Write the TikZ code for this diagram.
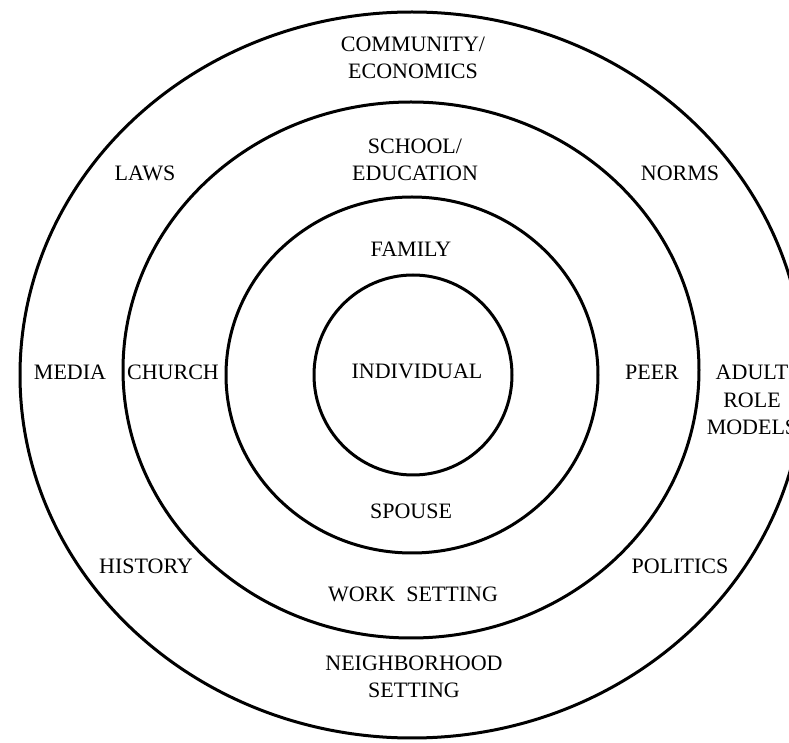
\documentclass[tikz,border=0pt]{standalone}
\usepackage{fontspec}
\setmainfont{Liberation Serif}
\usepackage{tikz}
\newcommand{\lblfont}{\fontsize{11pt}{13.6pt}\selectfont}
\tikzset{
  ring/.style={draw=black, line width=1.5pt},
  lbl/.style={font=\lblfont, text=black, inner sep=0pt, align=center},
}

\begin{document}
\begin{tikzpicture}[x=0.5pt, y=-0.5pt]
\clip (0,0) rectangle (789,743);

% the four nested rings
\draw[ring] (412,375) ellipse [x radius=392, y radius=363];
\draw[ring] (411,370) ellipse [x radius=288, y radius=268];
\draw[ring] (412,375) ellipse [x radius=186, y radius=178];
\draw[ring] (413,375) ellipse [x radius=99, y radius=100];

% centre and the rings around it
\node[lbl] (indiv)  at (417,371) {INDIVIDUAL};
\node[lbl] (family) at (411,249) {FAMILY};
\node[lbl] (spouse) at (411,511) {SPOUSE};
\node[lbl] (school) at (415,160) {SCHOOL/\\EDUCATION};
\node[lbl] (work)   at (413,594) {WORK\ \ SETTING};
\node[lbl] (church) at (173,372) {CHURCH};
\node[lbl] (peer)   at (652,372) {PEER};
\node[lbl] (comm)   at (413,58)  {COMMUNITY/\\ECONOMICS};
\node[lbl] (neigh)  at (414,677) {NEIGHBORHOOD\\SETTING};

% outer ring, between the lines
\node[lbl] (laws)     at (145,173) {LAWS};
\node[lbl] (norms)    at (680,173) {NORMS};
\node[lbl] (media)    at (70,372)  {MEDIA};
\node[lbl] (adult)    at (752,400) {ADULT\\ROLE\\MODELS};
\node[lbl] (history)  at (146,566) {HISTORY};
\node[lbl] (politics) at (680,566) {POLITICS};

\end{tikzpicture}
\end{document}
